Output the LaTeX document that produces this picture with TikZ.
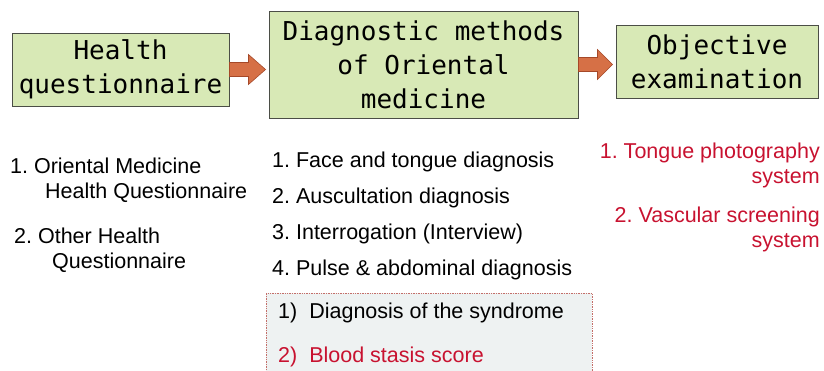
\documentclass[tikz,border=0pt]{standalone}
\usepackage{fontspec}
\setmainfont{Liberation Sans}
\newfontfamily\stagefont{DejaVu Sans Mono}
\usetikzlibrary{calc}
\frenchspacing

\definecolor{stagefill}{RGB}{216,233,182}
\definecolor{stageedge}{RGB}{75,78,70}
\definecolor{arrowfill}{RGB}{214,112,70}
\definecolor{arrowedge}{RGB}{165,72,40}
\definecolor{scorered}{RGB}{200,18,48}
\definecolor{noteedge}{RGB}{196,110,105}
\definecolor{notefill}{RGB}{238,242,242}

\tikzset{
  stage/.style={draw=stageedge, fill=stagefill, line width=0.9pt, inner sep=0pt,
    align=center, font=\stagefont\fontsize{26}{34}\selectfont},
  item/.style={anchor=base west, inner sep=0pt, align=left,
    font=\fontsize{21.5}{24.5}\selectfont},
  ritem/.style={anchor=base east, inner sep=0pt, align=right, text=scorered,
    font=\fontsize{21.5}{25}\selectfont},
  notebox/.style={draw=noteedge, fill=notefill, densely dotted, line width=0.7pt,
    inner sep=0pt, anchor=north west}
}

% fat arrow from the east side of #1 to the west side of #2
\newcommand{\fatarrow}[2]{%
  \filldraw[fill=arrowfill, draw=arrowedge, line width=0.6pt]
    ($(#1.east)+(0,-7)$) -- ++(19,0) -- ++(0,-8) --
    ($(#1.east -| #2.west)+(-3,0)$) --
    ($(#1.east)+(19,15)$) -- ++(0,-8) -- ($(#1.east)+(0,7)$) -- cycle;
}

\begin{document}
\begin{tikzpicture}[x=1pt, y=-1pt]
  \useasboundingbox (0,0) rectangle (824,370);
  \clip (0,0) rectangle (824,370);

  \node[stage, minimum width=217pt, minimum height=73pt] (hq) at (120.5,69.5)
    {Health\\questionnaire};
  \node[stage, minimum width=309pt, minimum height=107pt] (dm) at (423.5,64.5)
    {Diagnostic methods\\of Oriental\\medicine};
  \node[stage, minimum width=202pt, minimum height=73pt] (oe) at (717,62)
    {Objective\\examination};

  \fatarrow{hq}{dm}
  \fatarrow{dm}{oe}

  \node[item] (q1) at (10,198) {1. Oriental Medicine\\\hspace*{35pt}Health Questionnaire};
  \node[item] (q2) at (14,268) {2. Other Health\\\hspace*{38pt}Questionnaire};

  \foreach \t [count=\i] in {1. Face and tongue diagnosis, 2. Auscultation diagnosis,
      3. Interrogation (Interview), 4. Pulse \& abdominal diagnosis}
    \node[item] (m\i) at (272, 131+36*\i) {\t};

  \node[notebox, minimum width=326pt, minimum height=90pt] (nb) at (266,293) {};
  \node[item] (s1) at (278,318) {1)\hspace{12pt}Diagnosis of the syndrome};
  \node[item, text=scorered] (s2) at (278,362) {2)\hspace{12pt}Blood stasis score};

  \node[ritem] (o1) at (820,183) {1. Tongue photography\\system};
  \node[ritem] (o2) at (820,247) {2. Vascular screening\\system};
\end{tikzpicture}
\end{document}
